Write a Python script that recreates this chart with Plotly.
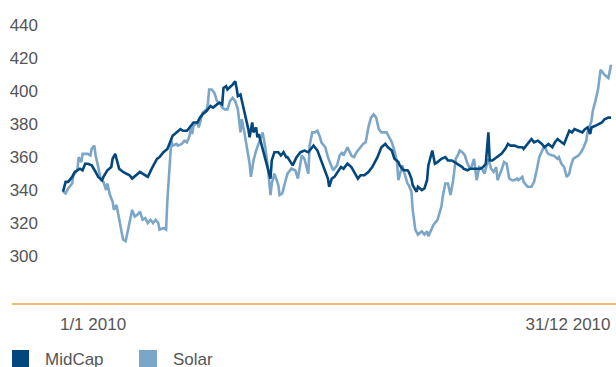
import pandas as pd
import plotly.graph_objects as go

# ---- data: day offsets from 1 Jan 2010 and index levels ----
midcap_days = [-23, -21, -19, -16, -14, -10, -8, -6, -4, -1, 2, 4, 7, 8, 11, 14, 15, 17, 18, 20,
               23, 26, 28, 30, 34, 36, 38, 42, 45, 49, 51, 54, 57, 59, 61, 64, 67, 69, 72, 74,
               77, 80, 82, 84, 87, 90, 92, 95, 97, 99, 100, 102, 103, 107, 109, 110, 111, 113, 115, 117,
               119, 120, 122, 123, 125, 126, 127, 130, 132, 134, 136, 137, 139, 142, 144, 146, 148, 149, 152, 153,
               156, 159, 162, 165, 168, 169, 172, 174, 176, 179, 180, 181, 183, 185, 188, 190, 192, 195, 198, 200,
               203, 205, 208, 211, 214, 216, 218, 221, 224, 226, 229, 231, 234, 235, 238, 241, 242, 244, 245, 248,
               249, 252, 254, 256, 257, 260, 262, 264, 267, 270, 272, 275, 277, 280, 283, 284, 287, 289, 291, 294,
               297, 299, 301, 303, 304, 306, 308, 310, 313, 316, 318, 320, 323, 326, 329, 330, 333, 336, 338, 341,
               344, 346, 349, 352, 354, 356, 359, 361, 363, 365, 367, 369, 372, 375, 377, 379, 381, 382, 385, 387,
               390, 392, 395, 397]
midcap_values = [339, 345, 345, 348, 351, 353, 352, 356, 356, 355, 351, 348, 346, 348, 352, 354, 359, 362, 359, 353,
                 351, 350, 349, 347, 350, 351, 350, 348, 353, 359, 360, 363, 365, 369, 373, 375, 377, 376, 376, 378,
                 381, 381, 384, 386, 388, 391, 390, 392, 393, 392, 402, 403, 401, 404, 406, 402, 397, 398, 391, 386,
                 377, 372, 381, 375, 378, 372, 374, 365, 359, 354, 347, 358, 363, 363, 361, 363, 360, 360, 356, 355,
                 360, 363, 364, 363, 366, 367, 364, 360, 356, 350, 347, 342, 347, 348, 352, 354, 353, 356, 354, 351,
                 347, 349, 349, 351, 354, 357, 360, 366, 368, 366, 364, 359, 357, 355, 352, 352, 351, 347, 343, 339,
                 342, 340, 341, 346, 355, 364, 356, 357, 359, 360, 358, 358, 357, 356, 354, 353, 352, 353, 353, 353,
                 353, 354, 356, 375, 358, 358, 359, 360, 362, 365, 368, 367, 367, 366, 366, 365, 368, 371, 369, 370,
                 368, 366, 368, 366, 369, 371, 369, 368, 372, 376, 375, 377, 376, 375, 377, 378, 374, 378, 379, 380,
                 381, 383, 384, 384]

solar_days = [-23, -21, -19, -16, -15, -12, -11, -9, -8, -5, -4, -2, -1, 1, 2, 4, 6, 8, 10, 11,
              13, 15, 16, 18, 20, 21, 23, 25, 27, 28, 30, 32, 34, 36, 38, 40, 42, 44, 46, 48,
              50, 51, 54, 56, 57, 59, 60, 61, 64, 65, 68, 70, 72, 74, 75, 76, 77, 80, 81, 83,
              84, 87, 88, 89, 91, 93, 95, 97, 99, 101, 103, 105, 107, 109, 111, 113, 114, 116, 118, 120,
              121, 123, 125, 126, 129, 130, 132, 134, 136, 137, 139, 142, 143, 145, 147, 149, 152, 155, 157, 159,
              160, 162, 165, 166, 168, 170, 172, 174, 175, 178, 180, 182, 184, 187, 189, 191, 192, 195, 196, 198,
              200, 202, 205, 207, 209, 211, 213, 215, 217, 219, 221, 223, 225, 227, 229, 231, 233, 234, 237, 238,
              241, 242, 244, 245, 247, 249, 251, 252, 254, 256, 257, 260, 261, 264, 265, 267, 268, 270, 272, 274,
              276, 278, 280, 281, 283, 285, 287, 289, 290, 292, 294, 296, 298, 300, 302, 303, 305, 307, 309, 310,
              313, 315, 317, 319, 321, 323, 325, 326, 329, 330, 333, 336, 338, 339, 340, 342, 344, 346, 348, 349,
              352, 353, 356, 357, 359, 361, 363, 365, 366, 368, 370, 372, 374, 376, 378, 379, 382, 383, 385, 387,
              389, 390, 392, 395, 396, 397]
solar_values = [339, 338, 341, 344, 349, 352, 360, 357, 362, 362, 362, 361, 365, 367, 361, 354, 346, 345, 340, 344,
                337, 333, 328, 331, 323, 317, 310, 309, 316, 321, 328, 324, 325, 327, 322, 323, 320, 322, 320, 322,
                320, 316, 317, 316, 334, 358, 370, 367, 368, 367, 368, 370, 369, 373, 378, 374, 379, 381, 378, 384,
                387, 389, 392, 401, 401, 399, 394, 393, 390, 389, 389, 394, 396, 394, 389, 375, 383, 375, 365, 356,
                348, 358, 364, 366, 372, 375, 366, 354, 337, 344, 350, 343, 337, 338, 344, 350, 353, 352, 347, 357,
                361, 359, 350, 367, 375, 375, 376, 372, 369, 366, 360, 356, 352, 355, 361, 363, 361, 366, 364, 361,
                360, 363, 366, 368, 369, 378, 384, 386, 384, 377, 375, 375, 375, 372, 369, 364, 357, 346, 355, 352,
                344, 343, 339, 328, 316, 313, 314, 315, 313, 315, 312, 317, 319, 322, 325, 330, 336, 344, 344, 337,
                346, 359, 362, 364, 363, 361, 356, 353, 354, 359, 346, 354, 353, 350, 356, 359, 353, 351, 354, 346,
                352, 357, 356, 347, 346, 346, 347, 346, 348, 345, 342, 342, 345, 348, 352, 360, 364, 367, 363, 362,
                361, 361, 359, 360, 356, 354, 348, 350, 354, 359, 360, 361, 363, 366, 370, 375, 382, 388, 394, 401,
                413, 412, 410, 408, 413, 416, 417]

y_tick_values = [300, 320, 340, 360, 380, 400, 420, 440]
x_tick_dates = ["2010-01-01", "2010-12-31"]
x_tick_labels = ["1/1 2010", "31/12 2010"]
series_names = ["MidCap", "Solar"]

# ---- styling ----
DARK = "#04477c"
LIGHT = "#7ba6c8"
ORANGE = "#f5a04a"
TEXT = "#555555"
FONT = "Liberation Sans, Arial, sans-serif"

start = pd.Timestamp("2010-01-01")
midcap_dates = start + pd.to_timedelta(midcap_days, unit="D")
solar_dates = start + pd.to_timedelta(solar_days, unit="D")

W, H = 616, 367
ML, MR, MT, MB = 45, 0, 5, 63
PW, PH = W - ML - MR, H - MT - MB

fig = go.Figure()
fig.add_trace(go.Scatter(x=solar_dates, y=solar_values, mode="lines", name=series_names[1],
                         line=dict(color=LIGHT, width=2.6), showlegend=False))
fig.add_trace(go.Scatter(x=midcap_dates, y=midcap_values, mode="lines", name=series_names[0],
                         line=dict(color=DARK, width=2.6), showlegend=False))

def px_x(p):
    return (p - ML) / PW

def px_y(p):
    return (H - MB - p) / PH

shapes = [
    dict(type="line", xref="paper", yref="paper", x0=px_x(12), x1=1, y0=0, y1=0,
         line=dict(color=ORANGE, width=1.5)),
    dict(type="rect", xref="paper", yref="paper", x0=px_x(12), x1=px_x(29), y0=px_y(367), y1=px_y(350),
         fillcolor=DARK, line=dict(width=0)),
    dict(type="rect", xref="paper", yref="paper", x0=px_x(139), x1=px_x(157), y0=px_y(367), y1=px_y(350),
         fillcolor=LIGHT, line=dict(width=0)),
]
annotations = [
    dict(text=series_names[0], xref="paper", yref="paper", x=px_x(43), y=px_y(360), xanchor="left",
         yanchor="middle", showarrow=False, font=dict(family=FONT, size=17, color=TEXT)),
    dict(text=series_names[1], xref="paper", yref="paper", x=px_x(171), y=px_y(360), xanchor="left",
         yanchor="middle", showarrow=False, font=dict(family=FONT, size=17, color=TEXT)),
]

fig.update_layout(
    width=W, height=H,
    margin=dict(l=ML, r=MR, t=MT, b=MB, pad=0),
    paper_bgcolor="white", plot_bgcolor="white",
    font=dict(family=FONT, size=17, color=TEXT),
    shapes=shapes, annotations=annotations,
    xaxis=dict(
        type="date",
        range=[start + pd.Timedelta(days=-36.8), start + pd.Timedelta(days=400.8)],
        tickvals=x_tick_dates, ticktext=x_tick_labels,
        showgrid=False, zeroline=False, showline=False, ticks="",
        ticklabelstandoff=8,
    ),
    yaxis=dict(
        range=[270.9, 452.3],
        tickvals=y_tick_values,
        showgrid=False, zeroline=False, showline=False, ticks="",
        ticklabelstandoff=6,
    ),
)

fig.write_html("out.html")
